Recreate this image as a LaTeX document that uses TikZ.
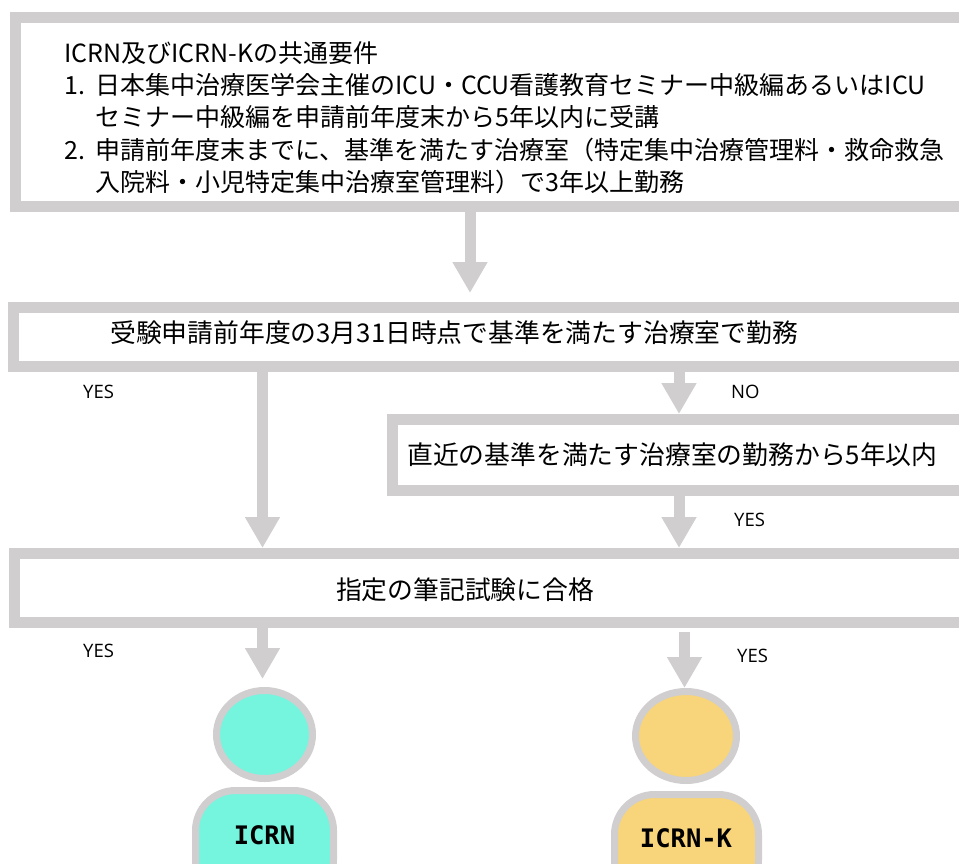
\documentclass[tikz,border=0pt]{standalone}
\usepackage{fontspec}
\newfontfamily\jpfont{Noto Sans CJK JP}
\newfontfamily\answerfont{Open Sans}
\newfontfamily\badgefont{DejaVu Sans Mono}
\usetikzlibrary{arrows.meta,shapes.geometric}
\definecolor{framegray}{HTML}{D0CECE}
\definecolor{icrnteal}{HTML}{75F4DE}
\definecolor{icrnkyellow}{HTML}{F8D47A}
\tikzset{
  frame/.style={draw=framegray, line width=11pt, rectangle, inner sep=0pt, anchor=north west},
  flow/.style={draw=framegray, line width=11pt, -{Triangle[length=31pt,width=33pt]}},
  reqtext/.style={anchor=base west, inner sep=0pt, font=\jpfont\fontsize{25}{30}\selectfont},
  boxtext/.style={anchor=base west, inner sep=0pt, font=\jpfont\fontsize{25.8}{30}\selectfont},
  answer/.style={anchor=base west, inner sep=0pt, font=\answerfont\fontsize{18.5}{20}\selectfont},
  head/.style={ellipse, draw=framegray, line width=7pt, inner sep=0pt},
  body/.style={draw=framegray, line width=7pt, rounded corners=40pt},
  badge/.style={inner sep=0pt, font=\badgefont\bfseries\fontsize{25.5}{27}\selectfont},
}
\begin{document}
\begin{tikzpicture}[x=1pt,y=-1pt]
    \useasboundingbox (0,0) rectangle (959,863);
    \clip (0,0) rectangle (959,863);
    \node (req) at (10,12) [frame, minimum width=1000pt, minimum height=189pt] {};
    \node (now) at (8,302) [frame, minimum width=1000pt, minimum height=59pt] {};
    \node (recent) at (387,414) [frame, minimum width=600pt, minimum height=71pt] {};
    \node (exam) at (9,548) [frame, minimum width=1000pt, minimum height=69pt] {};
    \node (reqhead) at (64,62.5) [reqtext] {ICRN及びICRN-Kの共通要件};
    \node (reqone) at (64,94.5) [reqtext] {\makebox[31pt][l]{1.}日本集中治療医学会主催のICU・CCU看護教育セミナー中級編あるいはICU};
    \node (reqonemore) at (95,126.5) [reqtext] {セミナー中級編を申請前年度末から5年以内に受講};
    \node (reqtwo) at (64,159) [reqtext] {\makebox[31pt][l]{2.}申請前年度末までに、基準を満たす治療室（特定集中治療管理料・救命救急};
    \node (reqtwomore) at (95,191) [reqtext] {入院料・小児特定集中治療室管理料）で3年以上勤務};
    \node (nowtext) at (110,342.8) [boxtext] {受験申請前年度の3月31日時点で基準を満たす治療室で勤務};
    \node (recenttext) at (407,464.8) [boxtext] {直近の基準を満たす治療室の勤務から5年以内};
    \node (examtext) at (465,599.8) [boxtext, anchor=base] {指定の筆記試験に合格};
    \node (headA) at (264.5,734.5) [head, fill=icrnteal, minimum width=96pt, minimum height=88pt] {};
    \node (headB) at (686,736) [head, fill=icrnkyellow, minimum width=101pt, minimum height=89pt] {};
    \draw[body, fill=icrnteal] (195.5,900) -- (195.5,790.5) -- (333.5,790.5) -- (333.5,900) -- cycle;
    \draw[body, fill=icrnkyellow] (614.5,900) -- (614.5,794.5) -- (758.5,794.5) -- (758.5,900) -- cycle;
    \node (icrn) at (264.5,835) [badge] {ICRN};
    \node (icrnk) at (686,838) [badge] {ICRN-K};
    \coordinate (maincol) at (470,0);
    \coordinate (leftcol) at (262.5,0);
    \coordinate (rightcol) at (679,0);
    \coordinate (badgecol) at (684.5,0);
    \draw[flow, shorten >=9pt] (req.south -| maincol) -- (now.north -| maincol);
    \draw[flow] (now.south -| leftcol) -- (exam.north -| leftcol);
    \draw[flow] (now.south -| rightcol) -- (recent.north -| rightcol);
    \draw[flow] (recent.south -| rightcol) -- (exam.north -| rightcol);
    \draw[flow, shorten >=8pt] (exam.south -| leftcol) -- (headA.north -| leftcol);
    \draw[flow, shorten <=4pt] (exam.south -| badgecol) -- (headB.north -| badgecol);
    \node (yesnow) at (83,398.4) [answer] {YES};
    \node (nonow) at (731,398.4) [answer] {NO};
    \node (yesrecent) at (734,526.4) [answer] {YES};
    \node (yesicrn) at (83,657.4) [answer] {YES};
    \node (yesicrnk) at (737,662.4) [answer] {YES};
\end{tikzpicture}
\end{document}
